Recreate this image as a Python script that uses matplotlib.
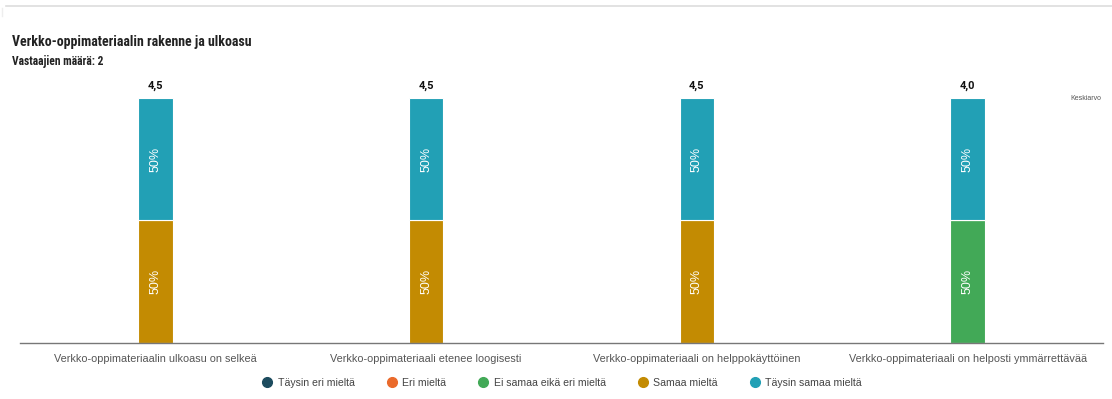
import matplotlib
matplotlib.use("Agg")
import matplotlib.pyplot as plt
from matplotlib.lines import Line2D
import numpy as np

categories = [
    "Verkko-oppimateriaalin ulkoasu on selkeä",
    "Verkko-oppimateriaali etenee loogisesti",
    "Verkko-oppimateriaali on helppokäyttöinen",
    "Verkko-oppimateriaali on helposti ymmärrettävää",
]
series_names = ["Täysin eri mieltä", "Eri mieltä", "Ei samaa eikä eri mieltä",
                "Samaa mieltä", "Täysin samaa mieltä"]
taysin_eri = [0, 0, 0, 0]
eri = [0, 0, 0, 0]
ei_samaa = [0, 0, 0, 50]
samaa = [50, 50, 50, 0]
taysin_samaa = [50, 50, 50, 50]
means = [4.5, 4.5, 4.5, 4.0]
mean_labels = ["4,5", "4,5", "4,5", "4,0"]

colors = ["#1d4b5e", "#ea6a2b", "#42a957", "#c38b02", "#22a0b5"]

plt.rcParams['font.family'] = ['Liberation Sans', 'DejaVu Sans']

fig = plt.figure(figsize=(11.12, 3.99), dpi=100)
ax = fig.add_axes([20/1112, 1 - 342.5/399, (1103-20)/1112, (342.5-98)/399])

x = np.arange(len(categories))
series = [taysin_eri, eri, ei_samaa, samaa, taysin_samaa]
bottom = np.zeros(len(categories))
width = 0.128
for vals, col in zip(series, colors):
    vals = np.array(vals, dtype=float)
    ax.bar(x, vals, width, bottom=bottom, color=col, edgecolor="white",
           linewidth=0.8, zorder=2)
    for xi, v, b in zip(x, vals, bottom):
        if v > 0:
            ax.text(xi, b + v/2, f"{v:.0f}%", rotation=90, ha="center", va="center",
                    color="white", fontsize=9, zorder=3)
    bottom += vals

for xi, lab in zip(x, mean_labels):
    ax.text(xi, 103, lab, ha="center", va="bottom", fontsize=8, fontweight="bold",
            color="#111111", family=['Roboto', 'DejaVu Sans'])

ax.set_xlim(-0.5, len(categories) - 0.5)
ax.set_ylim(0, 100)
ax.set_xticks(x)
ax.set_xticklabels(categories, fontsize=7.8, color="#555555")
ax.tick_params(axis="x", length=0, pad=8)
ax.set_yticks([])
for s in ["top", "right", "left"]:
    ax.spines[s].set_visible(False)
ax.spines["bottom"].set_color("#777777")
ax.spines["bottom"].set_linewidth(1.0)

fig.text(1070/1112, 1 - 98/399, "Keskiarvo", fontsize=5, color="#555555",
         ha="left", va="center")

fig.text(12/1112, 1 - 42/399, "Verkko-oppimateriaalin rakenne ja ulkoasu",
         fontsize=10, fontweight="bold", color="#222222", ha="left", va="center",
         family=['Roboto Condensed', 'Liberation Sans Narrow', 'Roboto', 'DejaVu Sans'])
fig.text(12/1112, 1 - 62/399, "Vastaajien määrä: 2",
         fontsize=8.3, fontweight="bold", color="#222222", ha="left", va="center",
         family=['Roboto Condensed', 'Liberation Sans Narrow', 'Roboto', 'DejaVu Sans'])

# card border (top edge)
fig.add_artist(Line2D([6/1112, 1.0], [1 - 5.5/399, 1 - 5.5/399], transform=fig.transFigure,
                      color="#dddddd", linewidth=1.2))
fig.add_artist(Line2D([1.5/1112, 1.5/1112], [1 - 8/399, 1 - 16/399], transform=fig.transFigure,
                      color="#eeeeee", linewidth=1.0))

handles = [Line2D([0], [0], marker="o", linestyle="", markersize=7,
                  markerfacecolor=c, markeredgecolor=c) for c in colors]
fig.legend(handles, series_names, loc="center", bbox_to_anchor=(562/1112, 1 - 383/399),
           ncol=5, frameon=False, fontsize=7.6, handlelength=1.0, handletextpad=0.5,
           columnspacing=3.0, labelcolor="#444444")

fig.savefig("out.png", dpi=100)
